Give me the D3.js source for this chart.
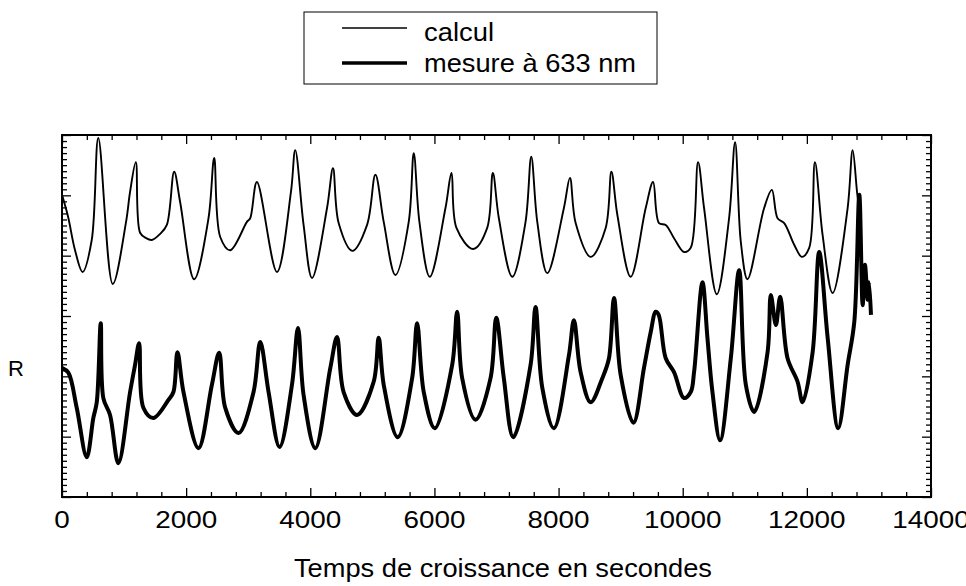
<!DOCTYPE html>
<html><head><meta charset="utf-8">
<script src="https://cdn.jsdelivr.net/npm/d3@7"></script>
<style>html,body{margin:0;padding:0;background:#fff;} svg{display:block;}</style>
</head><body>
<svg id="c" width="966" height="586"></svg>
<script>
// ---- data (time in seconds, R in arbitrary units) ----
const calculTime = [0,97,210,331,479,585,818,1032,1097,1189,1258,1355,1447,1581,1689,1807,1903,2129,2360,2452,2549,2710,2979,3032,3140,3463,3689,3758,3892,4028,4270,4366,4457,4678,4915,5049,5183,5371,5586,5667,5758,5925,6178,6275,6355,6625,6850,6941,7038,7254,7468,7560,7657,7818,8086,8183,8275,8517,8759,8851,8948,9162,9404,9522,9618,9726,9860,10021,10129,10247,10344,10549,10747,10844,10936,11044,11312,11436,11528,11635,11796,11920,12038,12130,12254,12415,12657,12738,12818,12872];
const calculR    = [50.1,46.5,40.9,37.3,42.6,59.5,35.3,45.6,50.6,55.5,43.8,42.9,42.6,43.6,45.1,53.9,48.9,36.1,46.2,56.2,43.1,40.9,45.6,46.2,52.2,37.3,50.6,57.5,45.1,36.3,47.9,54.5,45.4,40.8,45.1,53.4,45.6,36.8,45.6,57.0,45.6,36.5,47.9,53.7,44.6,41.1,44.6,53.7,46.2,36.5,45.6,56.4,45.6,37.1,47.9,52.9,45.4,39.8,44.6,53.9,46.7,36.5,47.9,52.2,45.4,45.1,42.9,40.6,41.3,55.5,47.9,33.6,46.2,58.8,42.3,36.1,47.9,50.9,46.2,45.4,41.8,39.8,41.3,55.5,43.4,33.8,47.9,57.5,49.7,46.7];

const mesureTime = [0,102,237,398,505,560,624,666,774,908,1097,1177,1242,1311,1473,1715,1795,1860,1957,2199,2415,2532,2629,2844,3086,3194,3328,3505,3705,3802,3892,4081,4323,4431,4537,4754,5021,5102,5183,5408,5641,5721,5828,6005,6286,6366,6447,6662,6904,6996,7118,7270,7549,7629,7738,7925,8167,8247,8355,8517,8705,8812,8893,9001,9206,9376,9484,9565,9613,9726,9860,10021,10129,10183,10318,10398,10479,10602,10775,10909,11017,11151,11367,11420,11501,11570,11689,11851,11931,12093,12199,12335,12505,12657,12764,12845,12899,12936,12980,13001,13033];
const mesureR    = [21.4,20.6,14.8,6.6,13.1,15.7,28.8,16.4,13.6,5.6,17.4,21.9,25.5,14.8,13.1,16.1,17.4,24.0,17.4,8.1,18.6,23.9,14.8,10.6,17.4,25.7,17.4,8.3,18.6,28.0,16.9,8.1,21.4,26.5,17.4,13.6,19.1,26.4,18.6,9.9,19.7,28.8,17.4,11.4,21.9,30.7,19.7,12.8,19.7,29.7,19.7,9.9,21.9,31.5,18.1,11.4,23.5,29.3,20.7,15.7,19.7,23.0,33.0,20.2,12.3,21.4,27.3,30.7,30.2,23.0,20.7,16.4,17.4,20.7,35.6,26.4,17.4,9.4,23.0,37.6,18.6,14.1,24.0,33.5,28.5,33.2,23.0,19.1,15.7,24.0,40.6,26.4,11.4,21.9,29.0,50.1,31.8,38.5,32.7,35.6,30.2];

const xTickValues = [0,2000,4000,6000,8000,10000,12000,14000];
const xTickLabels = ["0","2000","4000","6000","8000","10000","12000","14000"];
const legendLabels = ["calcul","mesure à 633 nm"];
const xTitle = "Temps de croissance en secondes";
const yTitle = "R";

// ---- layout ----
const L = 62, R = 931, T = 135, B = 497;
const svg = d3.select("#c");
const x = d3.scaleLinear().domain([0,14000]).range([L,R]);
const y = d3.scaleLinear().domain([0,60]).range([B,T]);
const font = "'Liberation Sans', Arial, sans-serif";

const xMinor = d3.range(0,14001,400).filter(v => v % 2000 !== 0);
const yMajor = d3.range(0,61,10);
const yMinor = d3.range(0,61,1).filter(v => v % 10 !== 0);

function styleAxis(g){ g.select(".domain").remove(); g.selectAll("line").attr("stroke","#000").attr("stroke-width",1.3); }

svg.append("g").attr("transform",`translate(0,${B})`)
  .call(d3.axisBottom(x).tickValues(xMinor).tickSize(-5).tickFormat("")).call(styleAxis);
svg.append("g").attr("transform",`translate(0,${B})`)
  .call(d3.axisBottom(x).tickValues(xTickValues).tickSize(-9).tickFormat("")).call(styleAxis);
svg.append("g").attr("transform",`translate(0,${T})`)
  .call(d3.axisTop(x).tickValues(xMinor).tickSize(-5).tickFormat("")).call(styleAxis);
svg.append("g").attr("transform",`translate(0,${T})`)
  .call(d3.axisTop(x).tickValues(xTickValues).tickSize(-9).tickFormat("")).call(styleAxis);
svg.append("g").attr("transform",`translate(${L},0)`)
  .call(d3.axisLeft(y).tickValues(yMinor).tickSize(-5).tickFormat("")).call(styleAxis);
svg.append("g").attr("transform",`translate(${L},0)`)
  .call(d3.axisLeft(y).tickValues(yMajor).tickSize(-9).tickFormat("")).call(styleAxis);
svg.append("g").attr("transform",`translate(${R},0)`)
  .call(d3.axisRight(y).tickValues(yMinor).tickSize(-5).tickFormat("")).call(styleAxis);
svg.append("g").attr("transform",`translate(${R},0)`)
  .call(d3.axisRight(y).tickValues(yMajor).tickSize(-9).tickFormat("")).call(styleAxis);

const labelW = s => s.length * 15.5;
svg.append("g").selectAll("text").data(xTickValues).join("text")
  .attr("x", d => x(d)).attr("y", 528)
  .attr("text-anchor","middle")
  .attr("font-family", font).attr("font-size", 24)
  .attr("textLength", (d,i) => labelW(xTickLabels[i])).attr("lengthAdjust","spacingAndGlyphs")
  .text((d,i) => xTickLabels[i]);

svg.append("rect").attr("x",L).attr("y",T).attr("width",R-L).attr("height",B-T)
  .attr("fill","none").attr("stroke","#000").attr("stroke-width",2);

const calc = calculTime.map((t,i)=>[t,calculR[i]]);
const mes = mesureTime.map((t,i)=>[t,mesureR[i]]);
svg.append("path").datum(mes)
  .attr("d", d3.line().x(d=>x(d[0])).y(d=>y(d[1])).curve(d3.curveCatmullRom.alpha(0.5)))
  .attr("fill","none").attr("stroke","#000").attr("stroke-width",4).attr("stroke-linejoin","round");
svg.append("path").datum(calc)
  .attr("d", d3.line().x(d=>x(d[0])).y(d=>y(d[1])).curve(d3.curveCatmullRom.alpha(0.5)))
  .attr("fill","none").attr("stroke","#000").attr("stroke-width",1.9).attr("stroke-linejoin","round");

svg.append("text").attr("x", 503).attr("y", 577).attr("text-anchor","middle")
  .attr("font-family", font).attr("font-size", 26)
  .attr("textLength", 418).attr("lengthAdjust","spacingAndGlyphs").text(xTitle);
svg.append("text").attr("x", 16).attr("y", 376).attr("text-anchor","middle")
  .attr("font-family", font).attr("font-size", 22).text(yTitle);

const lg = svg.append("g");
lg.append("rect").attr("x",304).attr("y",12).attr("width",353).attr("height",72)
  .attr("fill","#fff").attr("stroke","#000").attr("stroke-width",1);
const legW = [1.6, 3.6], legY = [28, 63], legTY = [41, 72], legTL = [70, 212];
legendLabels.forEach((lab,i) => {
  lg.append("line").attr("x1",342).attr("x2",407).attr("y1",legY[i]).attr("y2",legY[i])
    .attr("stroke","#000").attr("stroke-width",legW[i]);
  lg.append("text").attr("x",424).attr("y",legTY[i]).attr("font-family",font).attr("font-size",25)
    .attr("textLength",legTL[i]).attr("lengthAdjust","spacingAndGlyphs").text(lab);
});
</script>
</body></html>
